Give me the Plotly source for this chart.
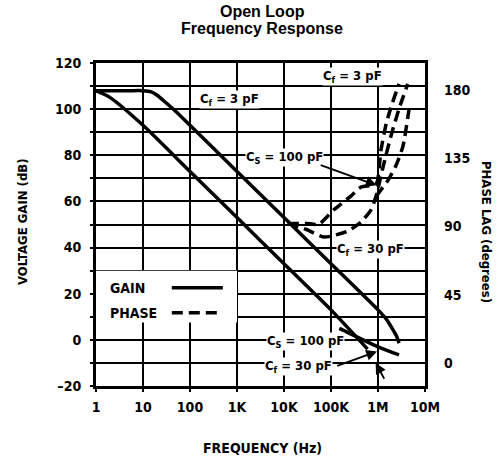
import plotly.graph_objects as go

# ---------------- data ----------------
freq_tick_vals = [1, 10, 100, 1e3, 1e4, 1e5, 1e6, 1e7]
freq_tick_text = ["1", "10", "100", "1K", "10K", "100K", "1M", "10M"]
gain_tick_vals = [-20, 0, 20, 40, 60, 80, 100, 120]
gain_tick_text = ["\u201320", "0", "20", "40", "60", "80", "100", "120"]
phase_tick_vals = [0, 45, 90, 135, 180]
phase_tick_text = ["0", "45", "90", "135", "180"]

# gain, Cf = 3 pF
gain_cf3_f = [1, 5, 10, 15, 20, 30, 50, 100, 1e3, 1e4, 1e5, 1e6, 1.5e6, 2e6, 2.5e6, 2.8e6]
gain_cf3_db = [108, 108, 108, 107.5, 106, 103, 99, 93, 73, 53, 33, 13, 9, 5, 1.5, -1.5]
# gain, Cs = 100 pF (lower line)
gain_cs100_f = [1, 2, 10, 100, 1e3, 1e4, 1e5, 6e5]
gain_cs100_db = [108, 105, 93, 73, 53, 33, 13, -4]
# gain, Cf = 30 pF branch
gain_cf30_f = [1.5e5, 1e6, 2.8e6]
gain_cf30_db = [5, -3, -6.5]

# phase lag curves
phase_cs100_f = [12e3, 30e3, 55e3, 115e3, 265e3, 435e3, 910e3, 1.15e6, 1.5e6, 2e6, 2.8e6]
phase_cs100_deg = [92, 92, 91.5, 101, 110, 116, 118, 140, 158, 171, 184]
phase_cf30_f = [12e3, 30e3, 71e3, 230e3, 435e3, 710e3, 910e3, 1.3e6, 1.9e6, 2.9e6, 4.3e6]
phase_cf30_deg = [92, 88, 83, 87, 93, 101, 110, 130, 150, 169, 184]
phase_cf3_f = [910e3, 1.6e6, 2.4e6, 3.4e6, 4.7e6]
phase_cf3_deg = [110, 120, 130, 143, 170]

# ---------------- styling ----------------
COND = "DejaVu Sans Condensed, Liberation Sans Narrow, Arial Narrow, sans-serif"
BLACK = "#000000"
GAIN_W = 3.5
DASH = "11px,6px"

# phase axis range matched to gain axis (0 deg at -10 dB, 180 deg at 108.3 dB)
DB0, DB180 = -10.0, 108.3
def db_to_phase(db):
    return (db - DB0) * 180.0 / (DB180 - DB0)

fig = go.Figure()

for f, g in [(gain_cf3_f, gain_cf3_db), (gain_cs100_f, gain_cs100_db), (gain_cf30_f, gain_cf30_db)]:
    fig.add_trace(go.Scatter(x=f, y=g, mode="lines",
                             line=dict(color=BLACK, width=GAIN_W, shape="spline", smoothing=0.6),
                             showlegend=False, hoverinfo="skip"))

for f, p in [(phase_cs100_f, phase_cs100_deg), (phase_cf30_f, phase_cf30_deg), (phase_cf3_f, phase_cf3_deg)]:
    fig.add_trace(go.Scatter(x=f, y=p, mode="lines", yaxis="y2",
                             line=dict(color=BLACK, width=GAIN_W, dash=DASH, shape="spline", smoothing=0.6),
                             showlegend=False, hoverinfo="skip"))

tickfont = dict(family=COND, size=14, color=BLACK, weight="bold")
grid = dict(showgrid=True, gridcolor=BLACK, gridwidth=1.6)

L, R, T, B = 96, 78, 63, 75
fig.update_layout(
    width=503, height=461,
    margin=dict(l=L, r=R, t=T, b=B, autoexpand=False),
    paper_bgcolor="white", plot_bgcolor="white",
    showlegend=False,
    xaxis=dict(type="log", range=[0, 7], tickvals=freq_tick_vals, ticktext=freq_tick_text,
               zeroline=False, showline=True, linecolor=BLACK, linewidth=3, mirror=True,
               ticks="outside", ticklen=3, tickwidth=1.5, tickcolor=BLACK, automargin=False,
               tickfont=tickfont, ticklabelstandoff=3, **grid),
    yaxis=dict(range=[-20, 120], tickvals=gain_tick_vals, ticktext=gain_tick_text,
               zeroline=False, showline=True, linecolor=BLACK, linewidth=3, mirror=True,
               ticks="outside", ticklen=3, tickwidth=1.5, tickcolor=BLACK, automargin=False,
               minor=dict(dtick=10, tick0=0, showgrid=True, gridcolor=BLACK, gridwidth=1.6,
                          ticks="outside", ticklen=3, tickwidth=1.5, tickcolor=BLACK),
               tickfont=tickfont, ticklabelstandoff=6, **grid),
    yaxis2=dict(overlaying="y", side="right", range=[db_to_phase(-20), db_to_phase(120)],
                tickvals=phase_tick_vals, ticktext=phase_tick_text, showgrid=False, zeroline=False,
                showline=False, ticks="", tickfont=tickfont, ticklabelstandoff=18, automargin=False),
)

PW = 503 - L - R
PH = 461 - T - B
def px_x(px):
    return (px - L) / PW
def px_y(py):
    return 1 - (py - T) / PH

# title
title_font = dict(family="Liberation Sans, Arial, sans-serif", size=16, color=BLACK, weight="bold")
fig.add_annotation(text="Open Loop", xref="paper", yref="paper", x=px_x(262), y=px_y(12),
                   xanchor="center", yanchor="middle", showarrow=False, font=title_font)
fig.add_annotation(text="Frequency Response", xref="paper", yref="paper", x=px_x(262), y=px_y(28),
                   xanchor="center", yanchor="middle", showarrow=False, font=title_font)

# axis titles
axfont = dict(family=COND, size=13, color=BLACK, weight="bold")
fig.add_annotation(text="VOLTAGE GAIN (dB)", xref="paper", yref="paper", x=px_x(22), y=px_y(222),
                   xanchor="center", yanchor="middle", textangle=-90, showarrow=False, font=axfont)
fig.add_annotation(text="PHASE LAG (degrees)", xref="paper", yref="paper", x=px_x(487), y=px_y(232),
                   xanchor="center", yanchor="middle", textangle=90, showarrow=False, font=axfont)
fig.add_annotation(text="FREQUENCY (Hz)", xref="paper", yref="paper", x=px_x(262), y=px_y(448),
                   xanchor="center", yanchor="middle", showarrow=False,
                   font=dict(family=COND, size=14, color=BLACK, weight="bold"))

# legend box (shapes on a log axis use data values)
fig.add_shape(type="rect", xref="x", yref="y", x0=1, x1=1000, y0=7.5, y1=30,
              fillcolor="white", line=dict(width=0), layer="between")
fig.add_shape(type="line", xref="x", yref="y", x0=41, x1=500, y0=22.6, y1=22.6,
              line=dict(color=BLACK, width=GAIN_W), layer="above")
fig.add_shape(type="line", xref="x", yref="y", x0=41, x1=500, y0=11.7, y1=11.7,
              line=dict(color=BLACK, width=GAIN_W, dash=DASH), layer="above")
lab = dict(family=COND, size=14, color=BLACK, weight="bold")
fig.add_annotation(text="GAIN", x=0.26, y=22.6, xref="x", yref="y", xanchor="left", showarrow=False, font=lab)
fig.add_annotation(text="PHASE", x=0.26, y=11.7, xref="x", yref="y", xanchor="left", showarrow=False, font=lab)

# curve labels (annotation x on a log axis is log10 of the value)
lab2 = dict(family=COND, size=13, color=BLACK, weight="bold")
def label(txt, xc, ydb):
    fig.add_annotation(text=txt, x=xc, y=ydb, xref="x", yref="y", xanchor="center", showarrow=False,
                       font=lab2, bgcolor="white", borderpad=0)

label("C<sub>f</sub> = 3 pF", 2.85, 104)
label("C<sub>f</sub> = 3 pF", 5.45, 114)
label("C<sub>S</sub> = 100 pF", 4.0, 79)
label("C<sub>f</sub> = 30 pF", 5.83, 39)
label("C<sub>S</sub> = 100 pF", 4.45, -0.5)
label("C<sub>f</sub> = 30 pF", 4.3, -11.5)

def arrow(x0, y0, x1, y1):
    fig.add_annotation(text="", x=x1, y=y1, ax=x0, ay=y0, xref="x", yref="y", axref="x", ayref="y",
                       showarrow=True, arrowhead=2, arrowsize=1.2, arrowwidth=1.8, arrowcolor=BLACK)

arrow(4.75, 76, 5.97, 67)
arrow(5.1, -11.5, 5.98, -5)
arrow(6.15, -17.5, 5.95, -10)

fig.write_html("out.html", config={"displayModeBar": False},
               post_script="document.body.style.margin='0px';")
